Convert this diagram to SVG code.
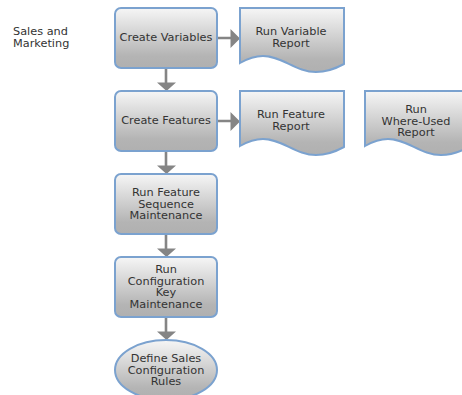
<svg xmlns="http://www.w3.org/2000/svg" width="462" height="395" viewBox="0 0 462 395">
<style>
text{font-family:"DejaVu Sans","Liberation Sans",sans-serif;font-size:11.3px;fill:#333;text-anchor:middle}
.s{fill:url(#g);stroke:#7ba2cf;stroke-width:2}
.c{stroke:#858585;stroke-width:2.6;fill:none}
.a{fill:#858585}
</style>
<defs>
<linearGradient id="g" x1="0" y1="0" x2="0" y2="1"><stop offset="0" stop-color="#f6f6f6"/><stop offset="0.8" stop-color="#b4b4b4"/><stop offset="1" stop-color="#b0b0b0"/></linearGradient>
</defs>
<rect width="462" height="395" fill="#fff"/>
<g id="connectors">
<path class="c" d="M166 68V83M166 151V166M166 234V249M166 317V332M217 38H232M217 121H232"/>
<path class="a" d="M157 82.500H176L166.500 91ZM157 165.500H176L166.500 174ZM157 248.500H176L166.500 257ZM157 331.500H176L166.500 340ZM230.500 29V48L240 38.500ZM230.500 112V131L240 121.500Z"/>
</g>
<g id="lane"><text x="13" y="35" style="text-anchor:start">Sales and</text><text x="13" y="47" style="text-anchor:start">Marketing</text></g>
<g id="n1"><rect class="s" x="115" y="8" width="102" height="60" rx="6"/><text x="166" y="41">Create Variables</text></g>
<g id="n2"><rect class="s" x="115" y="91" width="102" height="60" rx="6"/><text x="166" y="124">Create Features</text></g>
<g id="n3"><rect class="s" x="115" y="174" width="102" height="60" rx="6"/><text x="166" y="196">Run Feature</text><text x="166" y="207.500">Sequence</text><text x="166" y="219">Maintenance</text></g>
<g id="n4"><rect class="s" x="115" y="257" width="102" height="60" rx="6"/><text x="166" y="273">Run</text><text x="166" y="284.500">Configuration</text><text x="166" y="296">Key</text><text x="166" y="307.500">Maintenance</text></g>
<g id="n5"><ellipse class="s" cx="166" cy="370" rx="51" ry="30"/><text x="166" y="362">Define Sales</text><text x="166" y="373.500">Configuration</text><text x="166" y="385">Rules</text></g>
<g id="n6"><path class="s" d="M240 8H344V64C333 70 325 72 316 72C296 72 282 56 263 56C254 56 247 59 240 63Z"/><text x="291" y="35">Run Variable</text><text x="291" y="47">Report</text></g>
<g id="n7"><path class="s" d="M240 91H344V147C333 153 325 155 316 155C296 155 282 139 263 139C254 139 247 142 240 146Z"/><text x="291" y="118">Run Feature</text><text x="291" y="130">Report</text></g>
<g id="n8"><path class="s" d="M365 91H469V147C458 153 450 155 441 155C421 155 407 139 388 139C379 139 372 142 365 146Z"/><text x="416" y="113">Run</text><text x="416" y="124.500">Where-Used</text><text x="416" y="136">Report</text></g>
</svg>
